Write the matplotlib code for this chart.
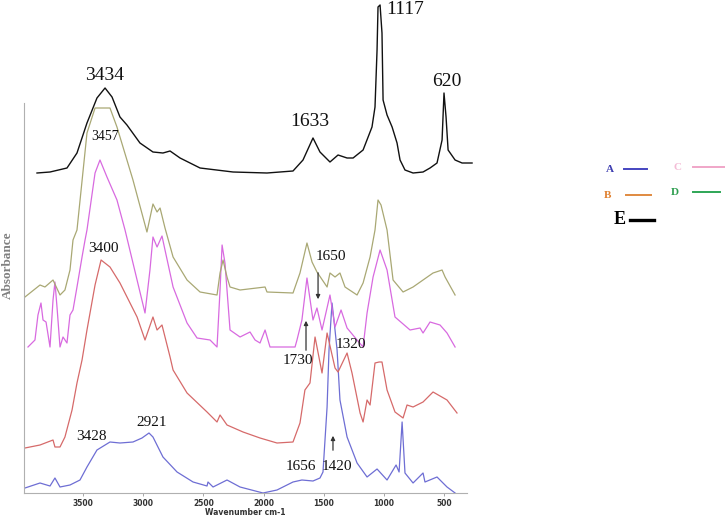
#!/usr/bin/python3
#coding=utf-8
# FTIR spectra A-E, stacked, with peak labels and a hand-drawn style legend

import numpy as np
import matplotlib
matplotlib.use("Agg")
import matplotlib.pyplot as plt
from matplotlib.lines import Line2D

# spectrum E (black, top)
wnE = [3882, 3774, 3633, 3550, 3467, 3384, 3317, 3259, 3193, 3135, 3027, 2919, 2836, 2777, 2694, 2528, 2254, 1972,
       1756, 1673, 1590, 1532, 1449, 1382, 1307, 1257, 1174, 1100, 1075, 1058, 1050, 1033, 1017, 1008, 975, 933,
       892, 867, 826, 759, 676, 618, 560, 518, 502, 485, 468, 410, 352, 269]
absE = [320, 321, 325, 340, 370, 395, 405, 396, 376, 368, 350, 341, 340, 342, 335, 325, 321, 320,
        322, 333, 355, 341, 331, 338, 335, 335, 343, 366, 386, 443, 486, 488, 460, 393, 378, 366,
        350, 333, 323, 320, 321, 325, 330, 353, 400, 376, 343, 333, 330, 330]

# spectrum D (olive)
wnD = [3982, 3857, 3816, 3749, 3691, 3650, 3608, 3583, 3550, 3467, 3400, 3276, 3218, 3085, 2969, 2919, 2885, 2860,
       2819, 2752, 2636, 2528, 2387, 2362, 2337, 2304, 2279, 2196, 1988, 1972, 1756, 1698, 1640, 1598, 1557, 1473,
       1449, 1407, 1366, 1324, 1224, 1174, 1116, 1075, 1050, 1025, 975, 925, 842, 759, 676, 593, 518, 493, 410]
absD = [196, 208, 206, 213, 198, 203, 223, 253, 263, 360, 385, 385, 366, 313, 261, 289, 281, 285,
        265, 236, 213, 201, 198, 220, 233, 216, 206, 203, 206, 201, 200, 220, 250, 231, 221, 206,
        220, 216, 220, 206, 198, 210, 236, 263, 293, 288, 263, 213, 201, 206, 213, 220, 223, 216, 198]

# spectrum C (magenta)
wnC = [3957, 3899, 3874, 3849, 3832, 3807, 3774, 3749, 3733, 3716, 3691, 3666, 3633, 3608, 3583, 3550, 3508, 3483,
       3467, 3400, 3359, 3301, 3218, 3151, 3051, 2985, 2944, 2919, 2885, 2844, 2819, 2752, 2636, 2553, 2445, 2387,
       2362, 2345, 2321, 2279, 2196, 2113, 2071, 2030, 1988, 1947, 1806, 1739, 1723, 1682, 1640, 1590, 1557, 1515,
       1449, 1407, 1357, 1307, 1224, 1174, 1141, 1091, 1033, 975, 909, 784, 701, 676, 618, 535, 477, 410]
absC = [146, 153, 178, 190, 173, 171, 146, 193, 211, 186, 146, 156, 150, 178, 183, 206, 236, 253,
        263, 320, 333, 316, 293, 263, 213, 180, 223, 256, 246, 257, 243, 206, 170, 155, 153, 146,
        203, 248, 230, 163, 156, 161, 153, 150, 163, 146, 146, 146, 153, 173, 215, 173, 185, 163,
        198, 166, 183, 165, 153, 146, 180, 216, 243, 223, 176, 163, 165, 160, 171, 168, 160, 146]

# spectrum B (red)
wnB = [3982, 3857, 3749, 3733, 3691, 3650, 3591, 3550, 3508, 3467, 3400, 3350, 3276, 3193, 3051, 2985, 2919, 2885,
       2844, 2777, 2752, 2636, 2470, 2387, 2362, 2304, 2171, 2030, 1889, 1756, 1698, 1657, 1615, 1573, 1515, 1473,
       1407, 1382, 1307, 1266, 1199, 1174, 1141, 1116, 1075, 1041, 1017, 975, 909, 842, 809, 759, 676, 593, 477, 394]
absB = [45, 48, 53, 46, 46, 56, 83, 110, 133, 163, 208, 233, 226, 210, 176, 153, 176, 163,
        168, 136, 123, 100, 81, 71, 78, 68, 61, 55, 50, 51, 70, 103, 110, 156, 120, 160,
        125, 121, 140, 120, 80, 71, 93, 88, 130, 131, 131, 103, 81, 75, 88, 86, 91, 101, 93, 80]

# spectrum A (blue, bottom)
wnA = [3982, 3857, 3774, 3733, 3691, 3608, 3525, 3467, 3384, 3276, 3193, 3085, 3010, 2952, 2919, 2836, 2719, 2586,
       2470, 2462, 2420, 2304, 2196, 2005, 1889, 1756, 1682, 1590, 1532, 1507, 1473, 1457, 1432, 1407, 1390, 1366,
       1307, 1224, 1141, 1058, 975, 900, 875, 850, 826, 759, 676, 660, 560, 477, 410]
absA = [5, 10, 7, 15, 6, 8, 13, 26, 43, 51, 50, 51, 55, 60, 56, 36, 21, 11,
        7, 11, 6, 13, 6, 0, 3, 11, 13, 12, 15, 21, 86, 143, 190, 163, 143, 93,
        56, 30, 16, 24, 13, 28, 21, 71, 20, 10, 20, 11, 16, 6, 0]

xTicks = [3500, 3000, 2500, 2000, 1500, 1000, 500]

# peak labels: text, wavenumber, height, font size
peakLabels = [("3434", 3317, 417, 14), ("1633", 1615, 371, 14), ("1117", 826, 484, 14), ("620", 477, 411, 14),
              ("3457", 3317, 357, 10), ("3400", 3334, 244, 11), ("1650", 1441, 236, 11), ("1730", 1714, 133, 11),
              ("1320", 1274, 149, 11), ("3428", 3434, 57, 11), ("2921", 2927, 70, 11), ("1656", 1690, 26, 11),
              ("1420", 1390, 26, 11)]
# arrows: wavenumber, tail height, head height
peakArrows = [(1548, 223, 191), (1648, 140, 175), (1424, 40, 60)]

serif = ["Liberation Serif", "DejaVu Serif"]


def drawLegend(fig):
    W, H = 725.0, 517.0
    items = [("A", 610, 169, "#3d3db0", 8, 624, 647, "#4545c0", 1.4),
             ("B", 608, 195, "#e0802e", 8, 626, 651, "#e08a40", 1.4),
             ("C", 677, 167, "#f4bcd6", 8, 693, 725, "#f0a6c8", 1.4),
             ("D", 675, 192, "#2e9e50", 8, 693, 720, "#2ea656", 1.4),
             ("E", 620, 220, "black", 13, 630, 654, "black", 2.4)]
    for letter, tx, ty, tcolor, fs, x0, x1, lcolor, lw in items:
        fig.text(tx / W, 1 - ty / H, letter, color=tcolor, fontsize=fs, fontweight="bold",
                 family=serif, ha="center", va="center")
        fig.add_artist(Line2D([x0 / W, x1 / W], [1 - ty / H, 1 - ty / H], color=lcolor, lw=lw,
                              transform=fig.transFigure))


def main():
    fig = plt.figure(figsize=(7.25, 5.17), dpi=100)
    ax = fig.add_axes([24 / 725.0, 24 / 517.0, 443 / 725.0, 493 / 517.0])

    ax.plot(wnA, absA, color="#6e6ed4", lw=0.9, clip_on=False)
    ax.plot(wnB, absB, color="#d66a6a", lw=0.9, clip_on=False)
    ax.plot(wnC, absC, color="#d86ae0", lw=0.9, clip_on=False)
    ax.plot(wnD, absD, color="#a9a874", lw=0.9, clip_on=False)
    ax.plot(wnE, absE, color="#111111", lw=1.0, clip_on=False)

    for text, wn, h, fs in peakLabels:
        ax.text(wn, h, text, fontsize=fs, family=serif, ha="center", va="center", color="#111111")
    for wn, y0, y1 in peakArrows:
        ax.annotate("", xy=(wn, y1), xytext=(wn, y0),
                    arrowprops=dict(arrowstyle="-|>", color="#333333", lw=0.9, mutation_scale=6))

    ax.set_xlim(3990, 311)
    ax.set_ylim(0, 493)
    ax.set_xticks(xTicks)
    ax.set_yticks([])
    ax.tick_params(axis="x", length=2.5, width=0.6, color="#999999", labelsize=5.5, pad=1.5)
    for lab in ax.get_xticklabels():
        lab.set_fontweight("bold")
        lab.set_color("#333333")
    ax.set_xlabel("Wavenumber cm-1", fontsize=5.5, fontweight="bold", color="#333333", labelpad=0)
    ax.spines["top"].set_visible(False)
    ax.spines["right"].set_visible(False)
    ax.spines["left"].set_bounds(0, 390)
    for s in ("left", "bottom"):
        ax.spines[s].set_color("#b0b0b0")
        ax.spines[s].set_linewidth(0.8)
    ax.patch.set_alpha(0)

    fig.text(8 / 725.0, 1 - 265 / 517.0, "Absorbance", rotation=90, color="#808080", fontsize=9.5,
             fontweight="bold", family=serif, ha="center", va="center")

    drawLegend(fig)
    fig.savefig("out.png", dpi=100)


if __name__ == "__main__":
    main()
